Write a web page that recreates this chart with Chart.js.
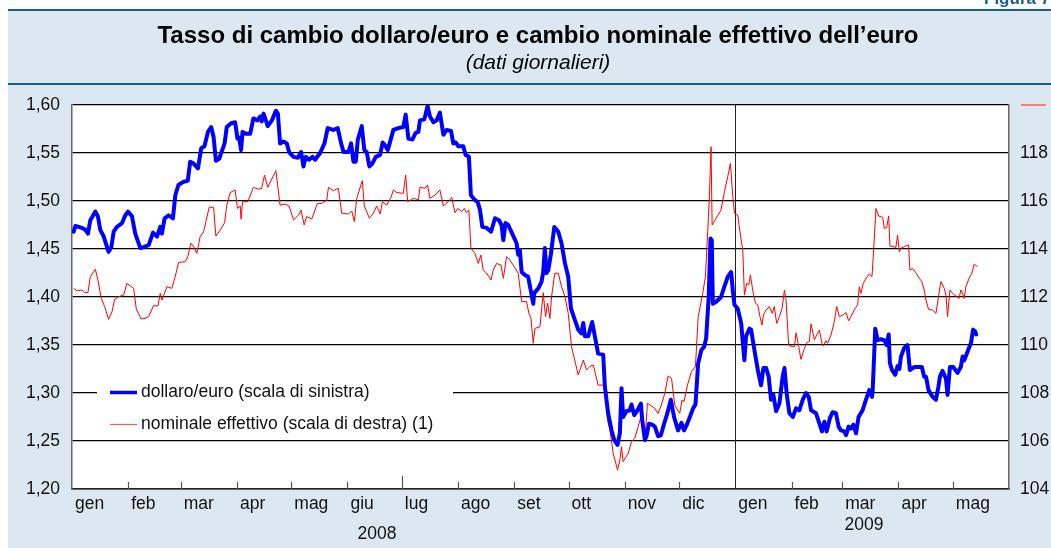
<!DOCTYPE html>
<html>
<head>
<meta charset="utf-8">
<script src="https://cdn.jsdelivr.net/npm/chart.js@4.4.1/dist/chart.umd.min.js"></script>
<style>
  html, body { margin: 0; padding: 0; background: #fff; }
  canvas { display: block; }
</style>
</head>
<body>
<canvas id="chart" width="1051" height="548"></canvas>
<script>
// giorni dal 1 gennaio 2008
const usdDays = [
    0.9, 1.8, 5.5, 7.4, 8.8, 10.1, 12.9, 14.3, 15.6, 17.5, 20.2, 21.7, 23.0, 24.8, 27.6, 29.4,
    30.9, 33.1, 34.9, 37.7, 39.5, 42.3, 44.7, 46.9, 48.7, 49.6, 51.1, 53.3, 55.7, 57.0, 58.8,
    61.6, 63.9, 65.2, 67.1, 69.5, 71.3, 73.1, 75.0, 76.8, 78.1, 79.4, 81.2, 84.2, 85.4, 87.8,
    90.0, 91.3, 92.2, 93.3, 94.1, 95.9, 98.3, 100.1, 102.4, 103.8, 104.7, 105.7, 106.6, 108.0,
    110.3, 112.5, 113.6, 114.8, 116.7, 118.5, 119.8, 122.2, 124.6, 126.4, 127.7, 129.0, 130.8,
    132.7, 134.1, 136.9, 139.3, 141.1, 144.2, 146.6, 148.5, 149.8, 152.5, 154.0, 155.3, 156.6,
    157.7, 159.9, 161.3, 162.6, 164.1, 165.7, 167.6, 170.0, 171.4, 172.7, 174.2, 176.0,
    177.3, 180.1, 182.8, 184.1, 185.6, 187.8, 189.6, 191.1, 192.0, 194.4, 196.2, 197.5, 199.4,
    201.2, 203.0, 204.9, 206.7, 209.1, 210.4, 211.7, 213.2, 215.9, 217.2, 219.0, 220.1, 222.3,
    223.8, 225.1, 226.4, 228.8, 231.2, 233.4, 235.6, 237.0, 238.0, 239.2, 240.7, 242.9, 245.3,
    246.2, 247.1, 248.1, 249.9, 251.7, 253.2, 254.5, 255.0, 257.3, 259.1, 260.0, 260.9, 261.8,
    262.8, 264.2, 266.1, 268.3, 270.1, 272.0, 273.8, 275.3, 277.5, 279.3, 281.1, 282.1, 283.0,
    284.8, 287.0, 288.5, 290.3, 293.1, 294.0, 295.8, 297.7, 299.2, 301.0, 302.3, 303.2, 304.1,
    305.9, 307.8, 308.7, 310.2, 312.0, 313.9, 314.6, 316.1, 317.0, 318.3, 320.1, 321.6, 323.4,
    324.9, 326.7, 328.5, 330.4, 332.2, 334.4, 336.3, 337.7, 339.0, 340.9, 342.7, 344.0, 345.5,
    347.3, 348.8, 349.9, 351.3, 352.3, 353.0, 353.6, 355.4, 358.1, 360.0, 361.8, 363.7, 364.6,
    365.5, 367.3, 369.2, 371.0, 371.9, 373.8, 374.7, 376.5, 378.4, 380.2, 381.5, 383.0, 384.4,
    385.7, 387.0, 388.5, 390.3, 392.1, 393.1, 394.3, 395.8, 397.7, 399.5, 401.3, 403.2, 405.0,
    406.5, 407.8, 410.5, 412.4, 413.8, 415.1, 416.4, 418.2, 419.7, 421.5, 423.0, 424.3, 426.1,
    427.1, 428.5, 429.8, 431.1, 432.6, 434.0, 436.2, 438.1, 439.9, 441.4, 441.8, 443.2, 444.5,
    446.3, 448.2, 449.5, 450.6, 451.3, 452.4, 454.2, 455.5, 456.5, 457.4, 459.2, 461.0, 462.3,
    464.7, 467.5, 468.9, 470.2, 471.2, 472.6, 474.8, 476.7, 478.1, 478.9, 480.3, 482.2, 483.1,
    484.4, 486.2, 488.6, 490.4, 491.4, 492.3, 494.1, 496.0, 497.2, 498.3, 498.9
];
const usdValues = [
    1.468, 1.474, 1.472, 1.470, 1.466, 1.480, 1.489, 1.484, 1.470, 1.463, 1.447, 1.452, 1.468, 1.473, 1.477, 1.485,
    1.489, 1.484, 1.466, 1.451, 1.452, 1.454, 1.467, 1.463, 1.473, 1.466, 1.482, 1.485, 1.482, 1.506, 1.517,
    1.520, 1.521, 1.541, 1.539, 1.534, 1.555, 1.557, 1.572, 1.577, 1.567, 1.542, 1.544, 1.560, 1.577, 1.581,
    1.582, 1.565, 1.566, 1.553, 1.572, 1.570, 1.570, 1.586, 1.584, 1.588, 1.583, 1.591, 1.586, 1.578,
    1.584, 1.594, 1.591, 1.560, 1.562, 1.560, 1.551, 1.546, 1.545, 1.551, 1.536, 1.546, 1.543,
    1.546, 1.543, 1.550, 1.560, 1.576, 1.574, 1.576, 1.560, 1.551, 1.551, 1.560, 1.541, 1.541,
    1.564, 1.578, 1.553, 1.551, 1.536, 1.539, 1.546, 1.548, 1.561, 1.558, 1.553, 1.565,
    1.574, 1.576, 1.577, 1.590, 1.565, 1.564, 1.571, 1.572, 1.584, 1.585, 1.599, 1.588, 1.582,
    1.584, 1.592, 1.569, 1.574, 1.573, 1.560, 1.561, 1.557, 1.557, 1.548, 1.546, 1.506, 1.501,
    1.499, 1.491, 1.473, 1.472, 1.468, 1.482, 1.480, 1.475, 1.459, 1.477, 1.475, 1.466, 1.456,
    1.444, 1.449, 1.426, 1.423, 1.421, 1.406, 1.393, 1.404, 1.409, 1.416, 1.426, 1.451, 1.425,
    1.428, 1.444, 1.473, 1.468, 1.456, 1.435, 1.421, 1.388, 1.376, 1.366, 1.362, 1.373, 1.359,
    1.359, 1.374, 1.359, 1.341, 1.340, 1.307, 1.279, 1.261, 1.251, 1.246, 1.258, 1.305, 1.275,
    1.281, 1.282, 1.288, 1.277, 1.282, 1.289, 1.272, 1.251, 1.255, 1.268, 1.267, 1.265, 1.255,
    1.256, 1.268, 1.279, 1.293, 1.275, 1.261, 1.269, 1.261, 1.266, 1.275, 1.284, 1.288, 1.331,
    1.345, 1.348, 1.357, 1.400, 1.461, 1.459, 1.393, 1.395, 1.400, 1.411, 1.421, 1.426, 1.407,
    1.392, 1.388, 1.373, 1.334, 1.359, 1.367, 1.366, 1.345, 1.324, 1.308, 1.326, 1.326, 1.317,
    1.293, 1.298, 1.281, 1.289, 1.317, 1.326, 1.300, 1.279, 1.275, 1.284, 1.282, 1.293, 1.300,
    1.296, 1.282, 1.279, 1.268, 1.260, 1.270, 1.260, 1.274, 1.280, 1.279, 1.265, 1.261, 1.260,
    1.256, 1.265, 1.263, 1.267, 1.258, 1.275, 1.282, 1.293, 1.303, 1.296, 1.303, 1.367, 1.355,
    1.356, 1.355, 1.350, 1.361, 1.331, 1.324, 1.319, 1.328, 1.325, 1.338, 1.347, 1.350, 1.324,
    1.327, 1.327, 1.327, 1.317, 1.317, 1.303, 1.296, 1.293, 1.307, 1.317, 1.323, 1.315, 1.298,
    1.327, 1.327, 1.321, 1.327, 1.338, 1.334, 1.343, 1.352, 1.366, 1.364, 1.361
];

const neerDays = [
    0.9, 2.8, 5.5, 7.0, 8.8, 10.1, 12.9, 14.3, 16.2, 18.0, 20.2, 22.1, 23.5, 25.7, 28.5, 30.3,
    32.2, 34.0, 35.5, 38.2, 40.4, 42.3, 45.0, 47.4, 48.7, 49.6, 52.4, 55.1, 57.0, 58.8, 62.5,
    63.9, 65.6, 67.1, 68.9, 70.7, 72.6, 75.7, 78.1, 79.4, 81.8, 84.2, 85.4, 87.3, 90.0, 91.3,
    92.8, 93.3, 94.1, 97.0, 100.1, 102.9, 104.7, 106.2, 108.0, 112.5, 114.8, 117.6, 119.8,
    122.2, 125.0, 126.4, 128.1, 129.5, 132.3, 135.4, 137.8, 140.6, 141.5, 144.2, 147.0, 148.8,
    152.5, 154.4, 155.8, 157.1, 160.2, 161.3, 164.1, 166.3, 168.1, 170.0, 171.3, 173.6, 176.0,
    177.3, 179.2, 182.8, 184.1, 185.2, 187.4, 188.9, 191.1, 192.0, 194.8, 196.2, 197.5, 200.3,
    203.0, 204.9, 207.6, 209.5, 211.3, 212.8, 215.0, 216.5, 217.7, 219.0, 220.1, 222.3, 224.2,
    225.6, 226.9, 228.8, 231.2, 232.4, 234.3, 236.7, 238.0, 239.8, 241.6, 244.0, 246.2, 248.1,
    250.8, 252.1, 253.2, 254.5, 255.4, 258.2, 260.0, 261.3, 262.4, 263.7, 264.6, 266.4, 268.3,
    270.1, 272.0, 273.8, 275.6, 277.8, 279.3, 282.1, 283.9, 285.7, 287.6, 288.5, 290.3, 293.1,
    294.0, 295.5, 296.8, 298.6, 301.0, 302.3, 303.2, 304.1, 306.9, 308.7, 310.5, 312.4, 314.2,
    316.1, 317.5, 319.7, 321.6, 323.4, 325.2, 327.1, 328.9, 330.8, 332.6, 334.1, 335.3, 336.6,
    337.7, 339.6, 341.8, 344.0, 345.5, 348.0, 349.5, 350.8, 351.7, 352.6, 353.2, 355.4, 358.1,
    360.0, 361.8, 363.3, 364.6, 365.5, 367.3, 369.2, 370.1, 371.0, 372.3, 373.4, 374.3, 375.6,
    377.1, 378.4, 379.6, 380.7, 381.5, 383.0, 384.8, 386.3, 387.5, 388.8, 390.3, 391.8, 393.1,
    394.0, 395.4, 397.3, 398.6, 399.5, 401.0, 402.2, 404.1, 405.4, 406.8, 407.8, 409.6, 410.9,
    412.4, 413.8, 414.6, 416.0, 416.9, 418.8, 420.6, 421.9, 423.4, 425.2, 427.1, 428.5, 429.8,
    431.6, 433.5, 434.4, 435.3, 436.6, 438.1, 439.9, 441.4, 442.1, 443.6, 445.1, 447.3, 448.2,
    449.5, 450.6, 451.3, 452.8, 454.6, 455.5, 456.5, 457.4, 459.2, 461.6, 462.3, 463.8, 465.6,
    467.5, 468.9, 470.2, 471.2, 472.6, 474.8, 476.7, 478.1, 479.4, 481.3, 482.2, 483.1, 484.4,
    485.9, 487.7, 489.5, 490.4, 491.4, 492.3, 493.2, 495.0, 496.5, 497.8, 499.6
];
const neerValues = [
    112.36, 112.26, 112.29, 112.19, 112.18, 112.85, 113.15, 112.71, 111.94, 111.60, 111.07, 111.39, 111.90, 112.01, 112.08, 112.57,
    112.46, 112.36, 111.49, 111.08, 111.11, 111.18, 111.64, 111.62, 112.15, 111.87, 112.43, 112.36, 112.87, 113.44, 113.47,
    113.68, 114.24, 114.10, 113.82, 114.51, 114.72, 115.74, 115.74, 114.54, 114.79, 115.10, 115.83, 116.35, 116.46, 115.69,
    115.79, 115.24, 115.97, 115.97, 116.57, 116.49, 116.53, 117.08, 116.57, 117.26, 115.83, 115.87, 115.79,
    115.21, 115.42, 115.62, 115.00, 115.35, 115.25, 115.90, 115.90, 116.04, 116.57, 116.43, 116.53, 115.49,
    115.46, 115.58, 115.14, 116.11, 116.85, 115.79, 115.28, 115.49, 115.79, 115.46, 115.97, 115.83, 116.15,
    116.46, 116.35, 116.32, 117.08, 115.97, 116.07, 116.11, 116.04, 116.57, 116.53, 116.67, 116.11, 116.25,
    116.46, 115.79, 115.97, 116.15, 115.51, 115.69, 115.56, 115.69, 115.51, 115.62, 114.03, 113.82, 113.40,
    113.75, 113.12, 112.99, 112.71, 113.12, 113.40, 113.33, 112.78, 113.68, 113.54, 113.26, 112.99, 111.81,
    111.81, 111.32, 111.11, 110.07, 110.69, 110.76, 112.18, 111.18, 111.74, 111.11, 112.01, 112.99, 112.99,
    112.43, 112.01, 111.32, 109.93, 109.24, 108.75, 109.37, 108.96, 109.10, 109.17, 108.89, 108.33, 108.33,
    108.12, 106.87, 106.46, 105.49, 104.79, 105.21, 105.76, 105.14, 105.49, 105.97, 106.11, 106.60, 107.08,
    105.97, 107.57, 107.46, 107.36, 107.15, 107.50, 107.99, 108.71, 108.61, 107.50, 107.29, 107.15, 107.71,
    107.64, 108.33, 108.89, 109.10, 111.18, 112.15, 112.85, 114.79, 116.18, 118.26, 115.00, 115.28, 115.62,
    116.39, 117.01, 117.57, 116.18, 115.49, 115.42, 114.38, 113.96, 112.08, 112.57, 112.50, 112.92, 112.29,
    111.74, 111.67, 111.18, 110.83, 111.25, 111.46, 111.60, 111.32, 111.60, 110.90, 111.18, 111.53, 112.29,
    111.87, 110.00, 109.93, 109.93, 110.51, 109.93, 109.40, 109.86, 110.10, 110.14, 110.88, 110.21, 110.42,
    110.62, 110.07, 109.96, 110.18, 110.07, 110.42, 110.97, 111.60, 111.18, 111.25, 111.35, 111.01, 111.18,
    111.46, 111.67, 112.43, 112.15, 112.57, 112.78, 112.96, 112.85, 113.68, 115.69, 115.37, 115.32, 114.86,
    114.90, 115.37, 114.13, 114.10, 114.07, 114.58, 113.89, 114.03, 114.10, 114.17, 113.13, 113.19, 113.01,
    112.78, 112.64, 112.29, 111.87, 111.49, 111.46, 111.32, 112.01, 112.64, 112.36, 112.08, 111.18, 112.29,
    112.15, 112.04, 111.94, 112.29, 112.15, 111.94, 112.43, 112.78, 112.99, 113.36, 113.27
];

const monthStarts = [0, 31, 60, 91, 121, 152, 182, 213, 244, 274, 305, 335, 366, 397, 425, 456, 486, 517];
const monthLabels = ['gen', 'feb', 'mar', 'apr', 'mag', 'giu', 'lug', 'ago', 'set', 'ott', 'nov', 'dic',
    'gen', 'feb', 'mar', 'apr', 'mag'];
const leftTicks = [1.20, 1.25, 1.30, 1.35, 1.40, 1.45, 1.50, 1.55, 1.60];
const rightTicks = [104, 106, 108, 110, 112, 114, 116, 118, 120];
const yearLabels = ['2008', '2009'];
const seriesLabels = ['dollaro/euro (scala di sinistra)', 'nominale effettivo (scala di destra) (1)'];

const BLUE = '#0000ff';
const RED = '#ff0000';
const PANEL = '#dce8f1';
const RULE = '#1d5e88';
const FONT = '"Liberation Sans", Arial, Helvetica, sans-serif';

Chart.defaults.font.family = FONT;
Chart.defaults.font.size = 17.5;
Chart.defaults.color = '#111';

const toPoints = (days, values) => days.map((d, i) => ({ x: d, y: values[i] }));

const frame = {
    id: 'frame',
    beforeDraw(chart) {
        const { ctx, chartArea } = chart;
        ctx.save();
        ctx.fillStyle = '#fff';
        ctx.fillRect(0, 0, 1051, 548);
        ctx.fillStyle = PANEL;
        ctx.fillRect(8, 10, 1043, 538);

        ctx.strokeStyle = RULE;
        ctx.lineWidth = 2;
        ctx.beginPath();
        ctx.moveTo(8, 10);
        ctx.lineTo(1051, 10);
        ctx.moveTo(8, 84);
        ctx.lineTo(1051, 84);
        ctx.stroke();

        ctx.fillStyle = RULE;
        ctx.font = 'bold 17px ' + FONT;
        ctx.textAlign = 'left';
        ctx.textBaseline = 'alphabetic';
        ctx.fillText('Figura 7', 984, 4);

        ctx.fillStyle = '#000';
        ctx.textAlign = 'center';
        ctx.textBaseline = 'middle';
        ctx.font = 'bold 24px ' + FONT;
        ctx.fillText('Tasso di cambio dollaro/euro e cambio nominale effettivo dell\u2019euro', 538, 36);
        ctx.font = 'italic 21px ' + FONT;
        ctx.fillText('(dati giornalieri)', 538, 63);

        ctx.fillStyle = '#fff';
        ctx.fillRect(chartArea.left, chartArea.top, chartArea.right - chartArea.left, chartArea.bottom - chartArea.top);
        ctx.restore();
    },
    beforeDatasetsDraw(chart) {
        const { ctx, chartArea, scales } = chart;
        const x = scales.x;
        ctx.save();

        // tacche mensili e separatore d'anno
        monthStarts.forEach((d, i) => {
            if (i === 0 || i === monthStarts.length - 1) return;
            const px = Math.round(x.getPixelForValue(d)) + 0.5;
            ctx.beginPath();
            if (d === 366) {
                ctx.strokeStyle = '#222';
                ctx.lineWidth = 1;
                ctx.moveTo(px, chartArea.top);
            } else {
                ctx.strokeStyle = '#555';
                ctx.lineWidth = 1.2;
                ctx.moveTo(px, chartArea.bottom - (d === 182 ? 13 : 7));
            }
            ctx.lineTo(px, chartArea.bottom);
            ctx.stroke();
        });

        // legenda
        ctx.fillStyle = '#fff';
        ctx.fillRect(97, 378, 356, 58);
        ctx.lineCap = 'butt';
        ctx.strokeStyle = BLUE;
        ctx.lineWidth = 3.5;
        ctx.beginPath();
        ctx.moveTo(110, 392.5);
        ctx.lineTo(137, 392.5);
        ctx.stroke();
        ctx.strokeStyle = '#ff5a5a';
        ctx.lineWidth = 1.2;
        ctx.beginPath();
        ctx.moveTo(110, 424.5);
        ctx.lineTo(137, 424.5);
        ctx.stroke();
        ctx.fillStyle = '#111';
        ctx.font = '17.5px ' + FONT;
        ctx.textAlign = 'left';
        ctx.textBaseline = 'middle';
        ctx.fillText(seriesLabels[0], 141, 392);
        ctx.fillText(seriesLabels[1], 141, 424);

        // anni
        ctx.textAlign = 'center';
        ctx.fillText(yearLabels[0], 377, 534);
        ctx.fillText(yearLabels[1], 864, 525);

        // segno rosso al posto di 120
        ctx.strokeStyle = '#ff5a5a';
        ctx.lineWidth = 1.5;
        ctx.beginPath();
        ctx.moveTo(1021, chartArea.top);
        ctx.lineTo(1046, chartArea.top);
        ctx.stroke();
        ctx.restore();
    }
};

new Chart(document.getElementById('chart'), {
    type: 'line',
    data: {
        datasets: [
            {
                label: seriesLabels[0],
                data: toPoints(usdDays, usdValues),
                yAxisID: 'y',
                borderColor: BLUE,
                borderWidth: 4,
                borderJoinStyle: 'round',
                borderCapStyle: 'round',
                pointRadius: 0,
                tension: 0,
                order: 0,
            },
            {
                label: seriesLabels[1],
                data: toPoints(neerDays, neerValues),
                yAxisID: 'y1',
                borderColor: RED,
                borderWidth: 1,
                pointRadius: 0,
                tension: 0,
                order: 1,
            },
        ],
    },
    options: {
        responsive: false,
        animation: false,
        devicePixelRatio: 1,
        layout: { padding: { top: 105, left: 0, right: 0, bottom: 0 } },
        plugins: {
            legend: { display: false },
            tooltip: { enabled: false },
        },
        scales: {
            x: {
                type: 'linear',
                min: monthStarts[0],
                max: monthStarts[monthStarts.length - 1],
                afterBuildTicks: (s) => { s.ticks = monthStarts.map((v) => ({ value: v })); },
                afterFit: (s) => { s.height = 59; },
                ticks: {
                    autoSkip: false,
                    maxRotation: 0,
                    align: 'start',
                    labelOffset: 3,
                    padding: 5,
                    callback: (v, i) => monthLabels[i] || '',
                },
                grid: { drawOnChartArea: false, drawTicks: false },
                border: { color: '#222', width: 1.5 },
            },
            y: {
                position: 'left',
                min: leftTicks[0],
                max: leftTicks[leftTicks.length - 1],
                afterBuildTicks: (s) => { s.ticks = leftTicks.map((v) => ({ value: v })); },
                afterFit: (s) => { s.width = 72; },
                ticks: {
                    padding: 12,
                    callback: (v) => v.toFixed(2).replace('.', ','),
                },
                grid: { color: '#000', lineWidth: 1.2, drawTicks: false },
                border: { color: '#666', width: 1.5 },
            },
            y1: {
                position: 'right',
                min: rightTicks[0],
                max: rightTicks[rightTicks.length - 1],
                afterBuildTicks: (s) => { s.ticks = rightTicks.map((v) => ({ value: v })); },
                afterFit: (s) => { s.width = 42; },
                ticks: {
                    padding: 11,
                    callback: (v) => (v === 120 ? '' : String(v)),
                },
                grid: { drawOnChartArea: false, drawTicks: false },
                border: { color: '#666', width: 1.5 },
            },
        },
    },
    plugins: [frame],
});
</script>
</body>
</html>
